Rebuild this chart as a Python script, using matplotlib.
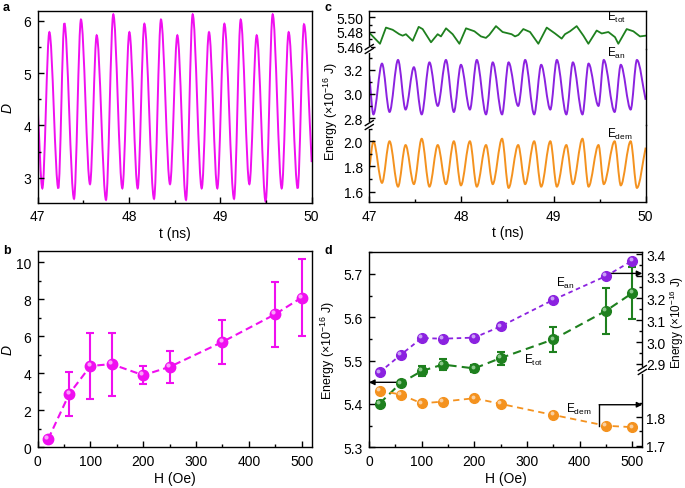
import matplotlib
matplotlib.use("Agg")
import matplotlib.pyplot as plt
from matplotlib.path import Path
from matplotlib.patches import PathPatch
from matplotlib.lines import Line2D
from matplotlib.ticker import MultipleLocator, FixedLocator, FormatStrFormatter
from matplotlib.transforms import ScaledTranslation

plt.rcParams['font.family'] = ['Liberation Sans', 'DejaVu Sans']
plt.rcParams['mathtext.fontset'] = 'custom'
plt.rcParams['mathtext.rm'] = 'Liberation Sans'
plt.rcParams['mathtext.it'] = 'Liberation Sans:italic'
plt.rcParams['font.size'] = 10
plt.rcParams['axes.linewidth'] = 1.0

MAG = '#F00FF0'
PURPLE = '#8B22E0'
GREEN = '#1E801E'
ORANGE = '#F4921F'

# ---- panel a: D(t), turning points
t_a = [47.000, 47.051, 47.128, 47.226, 47.292, 47.398, 47.474, 47.573, 47.646,
       47.748, 47.828, 47.927, 48.004, 48.095, 48.168, 48.274, 48.350, 48.449,
       48.529, 48.624, 48.697, 48.796, 48.876, 48.967, 49.044, 49.150, 49.223,
       49.318, 49.398, 49.496, 49.573, 49.672, 49.748, 49.847, 49.916, 50.000]
D_a = [4.35, 2.80, 5.78, 2.80, 5.95, 2.60, 6.02, 2.88, 5.72,
       2.58, 6.12, 2.80, 5.78, 2.80, 5.94, 2.60, 6.02, 2.88,
       5.72, 2.58, 6.12, 2.80, 5.78, 2.80, 5.94, 2.60, 6.02,
       2.88, 5.72, 2.55, 6.12, 2.80, 5.78, 2.80, 5.93, 3.30]

# ---- panel b: D vs H
H_b = [20, 60, 100, 140, 200, 250, 350, 450, 500]
D_b = [0.45, 2.9, 4.4, 4.5, 3.9, 4.35, 5.7, 7.2, 8.1]
D_b_err = [0.1, 1.2, 1.8, 1.7, 0.5, 0.85, 1.2, 1.75, 2.1]

# ---- panel c: energies vs t
t_c = [47.000, 47.045, 47.138, 47.220, 47.312, 47.394, 47.484, 47.569, 47.653,
       47.743, 47.832, 47.918, 47.995, 48.092, 48.167, 48.267, 48.340, 48.441,
       48.512, 48.616, 48.692, 48.790, 48.866, 48.965, 49.036, 49.139, 49.210,
       49.314, 49.380, 49.488, 49.545, 49.663, 49.730, 49.837, 49.905, 50.000]
E_dem_c = [1.78, 2.00, 1.67, 2.00, 1.64, 1.97, 1.66, 2.02, 1.64,
           1.97, 1.66, 2.00, 1.65, 2.00, 1.64, 1.97, 1.66, 2.02,
           1.63, 1.97, 1.66, 2.00, 1.64, 2.00, 1.64, 1.97, 1.66,
           2.02, 1.64, 1.97, 1.66, 2.00, 1.65, 2.00, 1.63, 1.95]
E_an_c = [3.15, 2.83, 3.25, 2.85, 3.28, 2.87, 3.22, 2.83, 3.26,
          2.90, 3.28, 2.85, 3.24, 2.87, 3.28, 2.83, 3.26, 2.83,
          3.26, 2.90, 3.28, 2.83, 3.24, 2.87, 3.28, 2.83, 3.26,
          2.83, 3.25, 2.90, 3.28, 2.85, 3.24, 2.87, 3.28, 2.95]
t_tot = [47.008, 47.116, 47.181, 47.254, 47.326, 47.362, 47.398, 47.471, 47.536,
         47.579, 47.670, 47.742, 47.778, 47.833, 47.905, 47.978, 48.050, 48.141,
         48.212, 48.266, 48.302, 48.375, 48.447, 48.545, 48.582, 48.618, 48.672,
         48.745, 48.835, 48.926, 49.016, 49.088, 49.124, 49.179, 49.251, 49.324,
         49.378, 49.468, 49.523, 49.595, 49.667, 49.703, 49.794, 49.866, 49.938,
         50.000]
E_tot_c = [5.478, 5.464, 5.486, 5.483, 5.477, 5.475, 5.477, 5.468, 5.487,
           5.484, 5.466, 5.477, 5.474, 5.485, 5.477, 5.464, 5.485, 5.481,
           5.474, 5.472, 5.476, 5.488, 5.480, 5.477, 5.474, 5.476, 5.484,
           5.480, 5.464, 5.486, 5.478, 5.471, 5.477, 5.481, 5.488, 5.475,
           5.464, 5.482, 5.478, 5.480, 5.473, 5.464, 5.484, 5.481, 5.474,
           5.475]

# ---- panel d: energies vs H
H_d = [20, 60, 100, 140, 200, 250, 350, 450, 500]
E_tot_d = [5.401, 5.448, 5.476, 5.491, 5.482, 5.506, 5.549, 5.615, 5.656]
E_tot_err = [0.006, 0.006, 0.012, 0.013, 0.008, 0.015, 0.029, 0.053, 0.061]
E_an_d = [2.862, 2.941, 3.018, 3.015, 3.020, 3.071, 3.192, 3.300, 3.370]
E_dem_d = [1.894, 1.880, 1.849, 1.855, 1.867, 1.847, 1.808, 1.770, 1.765]


def smooth(xs, ys):
    # cubic pieces between turning points, flat at every turning point
    verts = [(xs[0], ys[0])]
    codes = [Path.MOVETO]
    n = len(xs)
    for i in range(n - 1):
        x0, y0, x1, y1 = xs[i], ys[i], xs[i + 1], ys[i + 1]
        dx = (x1 - x0) / 3
        dy0 = (y1 - y0) / 3 if i == 0 else 0
        dy1 = (y1 - y0) / 3 if i == n - 2 else 0
        verts += [(x0 + dx, y0 + dy0), (x1 - dx, y1 - dy1), (x1, y1)]
        codes += [Path.CURVE4] * 3
    return Path(verts, codes)


def style(ax, left=True, right=False, bottom=True, pad=4.5):
    ax.tick_params(which='both', direction='in', labelsize=10, pad=pad,
                   top=False, left=left, right=right, bottom=bottom,
                   labelleft=left, labelright=right, labelbottom=bottom)
    ax.tick_params(which='major', length=4, width=1)
    ax.tick_params(which='minor', length=2, width=1)


def spheres(ax, x, y, color, light, ms):
    ax.plot(x, y, 'o', color=color, mec=color, ms=ms, zorder=4, clip_on=False)
    off = ax.transData + ScaledTranslation(-ms * 0.17 / 72, ms * 0.17 / 72,
                                           fig.dpi_scale_trans)
    ax.plot(x, y, 'o', color=light, ms=ms * 0.4, mew=0, transform=off,
            zorder=5, clip_on=False)


def brk(x, y):
    pw, ph = 1 / 685, 1 / 489
    fig.add_artist(Line2D([x, x], [y - 2 * ph, y + 2 * ph], color='white', lw=2))
    for o in (-2, 2):
        fig.add_artist(Line2D([x - 4 * pw, x + 4 * pw],
                              [y + (o - 2.5) * ph, y + (o + 2.5) * ph],
                              color='k', lw=1))


fig = plt.figure(figsize=(6.85, 4.89), dpi=100)
ELABEL = 'Energy (×10$^{-16}$ J)'

# ---------------- a
ax_a = fig.add_axes([0.055, 0.5828, 0.4, 0.3933])
ax_a.add_patch(PathPatch(smooth(t_a, D_a), fill=False, ec=MAG, lw=1.4))
ax_a.set_xlim(47, 50)
ax_a.set_ylim(2.52, 6.19)
ax_a.xaxis.set_major_locator(MultipleLocator(1))
ax_a.xaxis.set_minor_locator(MultipleLocator(0.5))
ax_a.yaxis.set_major_locator(MultipleLocator(1))
ax_a.yaxis.set_minor_locator(MultipleLocator(0.5))
style(ax_a)
ax_a.set_xlabel('t (ns)')
ax_a.set_ylabel('D', style='italic')
ax_a.xaxis.set_label_coords(0.5, -0.12)
ax_a.yaxis.set_label_coords(-0.085, 0.5)

# ---------------- b
ax_b = fig.add_axes([0.055, 0.0832, 0.4, 0.4008])
ax_b.plot(H_b, D_b, ls=(0, (3.5, 2)), color=MAG, lw=1.5)
ax_b.errorbar(H_b, D_b, yerr=D_b_err, fmt='none', ecolor=MAG,
              elinewidth=1.5, capsize=3, capthick=1.5)
spheres(ax_b, H_b, D_b, MAG, '#FAA0FA', 7.5)
ax_b.set_xlim(0, 519)
ax_b.set_ylim(0, 10.6)
ax_b.xaxis.set_major_locator(MultipleLocator(100))
ax_b.xaxis.set_minor_locator(MultipleLocator(50))
ax_b.yaxis.set_major_locator(MultipleLocator(2))
ax_b.yaxis.set_minor_locator(MultipleLocator(1))
style(ax_b)
ax_b.set_xlabel('H (Oe)')
ax_b.set_ylabel('D', style='italic')
ax_b.xaxis.set_label_coords(0.5, -0.12)
ax_b.yaxis.set_label_coords(-0.085, 0.5)

# ---------------- c (broken axis, three bands)
cx, cw = 0.5391, 0.4035
ax_c1 = fig.add_axes([cx, 0.5843, cw, 0.1580])
ax_c2 = fig.add_axes([cx, 0.7423, cw, 0.1555])
ax_c3 = fig.add_axes([cx, 0.8978, cw, 0.0783])

ax_c3.plot(t_tot, E_tot_c, color=GREEN, lw=1.3)
ax_c2.add_patch(PathPatch(smooth(t_c, E_an_c), fill=False, ec=PURPLE, lw=1.4))
ax_c1.add_patch(PathPatch(smooth(t_c, E_dem_c), fill=False, ec=ORANGE, lw=1.4))

for ax in (ax_c1, ax_c2, ax_c3):
    ax.set_xlim(47, 50)
    ax.patch.set_alpha(0)
ax_c3.set_ylim(5.4569, 5.509)
ax_c2.set_ylim(2.742, 3.371)
ax_c1.set_ylim(1.516, 2.129)

ax_c3.yaxis.set_major_locator(FixedLocator([5.46, 5.48, 5.50]))
ax_c3.yaxis.set_minor_locator(FixedLocator([5.47, 5.49]))
ax_c3.yaxis.set_major_formatter(FormatStrFormatter('%.2f'))
ax_c2.yaxis.set_major_locator(FixedLocator([2.8, 3.0, 3.2]))
ax_c2.yaxis.set_minor_locator(FixedLocator([2.9, 3.1, 3.3]))
ax_c2.yaxis.set_major_formatter(FormatStrFormatter('%.1f'))
ax_c1.yaxis.set_major_locator(FixedLocator([1.6, 1.8, 2.0]))
ax_c1.yaxis.set_minor_locator(FixedLocator([1.7, 1.9, 2.1]))
ax_c1.yaxis.set_major_formatter(FormatStrFormatter('%.1f'))
ax_c1.xaxis.set_major_locator(MultipleLocator(1))
ax_c1.xaxis.set_minor_locator(MultipleLocator(0.5))

style(ax_c1)
style(ax_c2, bottom=False)
style(ax_c3, bottom=False)
ax_c1.spines['top'].set_visible(False)
ax_c2.spines['top'].set_visible(False)
ax_c2.spines['bottom'].set_visible(False)
ax_c3.spines['bottom'].set_visible(False)
ax_c1.set_xlabel('t (ns)')
ax_c1.xaxis.set_label_coords(0.5, -0.30)

ax_c3.text(49.577, 5.4967, r'E$_{\rm tot}$', fontsize=8.5)
ax_c2.text(49.577, 3.316, r'E$_{\rm an}$', fontsize=8.5)
ax_c1.text(49.577, 2.032, r'E$_{\rm dem}$', fontsize=8.5)
fig.text(331 / 685, 1 - 112 / 489, ELABEL, rotation=90,
         ha='center', va='center', fontsize=9)
brk(cx, 0.8978)
brk(cx, 0.7423)

# ---------------- d
ax_d = fig.add_axes([0.5387, 0.0832, 0.399, 0.3988])
ax_an = ax_d.twinx()
ax_dem = ax_d.twinx()

ax_d.plot(H_d, E_tot_d, ls=(0, (4, 2.5)), color=GREEN, lw=1.5)
ax_d.errorbar(H_d, E_tot_d, yerr=E_tot_err, fmt='none', ecolor=GREEN,
              elinewidth=1.5, capsize=3, capthick=1.5)
spheres(ax_d, H_d, E_tot_d, GREEN, '#8CC88C', 7)
ax_an.plot(H_d, E_an_d, ls=(0, (2.5, 2)), color=PURPLE, lw=1.3)
spheres(ax_an, H_d, E_an_d, PURPLE, '#C8A0F5', 7)
ax_dem.plot(H_d, E_dem_d, ls=(0, (3.5, 2.5)), color=ORANGE, lw=1.3)
spheres(ax_dem, H_d, E_dem_d, ORANGE, '#FAD0A0', 7)

ax_d.set_xlim(0, 519)
ax_d.set_ylim(5.3, 5.75)
ax_an.set_ylim(2.521, 3.408)
ax_dem.set_ylim(1.694, 2.381)
ax_d.xaxis.set_major_locator(MultipleLocator(100))
ax_d.xaxis.set_minor_locator(MultipleLocator(50))
ax_d.yaxis.set_major_locator(MultipleLocator(0.1))
ax_d.yaxis.set_minor_locator(MultipleLocator(0.05))
ax_d.yaxis.set_major_formatter(FormatStrFormatter('%.1f'))
ax_an.yaxis.set_major_locator(FixedLocator([2.9, 3.0, 3.1, 3.2, 3.3, 3.4]))
ax_an.yaxis.set_minor_locator(FixedLocator([2.95, 3.05, 3.15, 3.25, 3.35]))
ax_an.yaxis.set_major_formatter(FormatStrFormatter('%.1f'))
ax_dem.yaxis.set_major_locator(FixedLocator([1.7, 1.8]))
ax_dem.yaxis.set_minor_locator(FixedLocator([1.75, 1.85]))
ax_dem.yaxis.set_major_formatter(FormatStrFormatter('%.1f'))

style(ax_d)
style(ax_an, left=False, right=True, bottom=False, pad=3)
style(ax_dem, left=False, right=True, bottom=False, pad=3)
ax_d.spines['right'].set_visible(False)
for ax in (ax_an, ax_dem):
    for s in ('left', 'top', 'bottom'):
        ax.spines[s].set_visible(False)
ax_an.spines['right'].set_bounds(2.882, 3.408)
ax_dem.spines['right'].set_bounds(1.694, 1.960)

ax_d.set_xlabel('H (Oe)')
ax_d.xaxis.set_label_coords(0.5, -0.12)
ax_d.set_ylabel(ELABEL, fontsize=9)
ax_d.yaxis.set_label_coords(-0.117, 0.503)
ax_an.set_ylabel(ELABEL, fontsize=8.5)
ax_an.yaxis.set_label_coords(1.092, 0.643)

ax_d.annotate('', xy=(0, 5.45), xytext=(62, 5.45),
              arrowprops=dict(arrowstyle='-|>', color='k', lw=1,
                              mutation_scale=8, shrinkA=0, shrinkB=0))
ax_an.annotate('', xy=(519, 3.312), xytext=(455, 3.312),
               arrowprops=dict(arrowstyle='-|>', color='k', lw=1,
                               mutation_scale=8, shrinkA=0, shrinkB=0))
ax_dem.plot([437, 437], [1.770, 1.844], color='k', lw=1)
ax_dem.annotate('', xy=(519, 1.844), xytext=(437, 1.844),
                arrowprops=dict(arrowstyle='-|>', color='k', lw=1,
                                mutation_scale=8, shrinkA=0, shrinkB=0))
ax_d.text(355, 5.672, r'E$_{\rm an}$', fontsize=8.5)
ax_d.text(295, 5.4947, r'E$_{\rm tot}$', fontsize=8.5)
ax_d.text(375, 5.3808, r'E$_{\rm dem}$', fontsize=8.5)
brk(0.5387 + 0.399, 0.0832 + 0.3988 * 0.3964)

for s, x, y in (('a', 0.004, 0.995), ('b', 0.004, 0.499),
                ('c', 0.474, 0.995), ('d', 0.474, 0.499)):
    fig.text(x, y, s, weight='bold', fontsize=9, va='top')

fig.savefig('out.png', dpi=100)
